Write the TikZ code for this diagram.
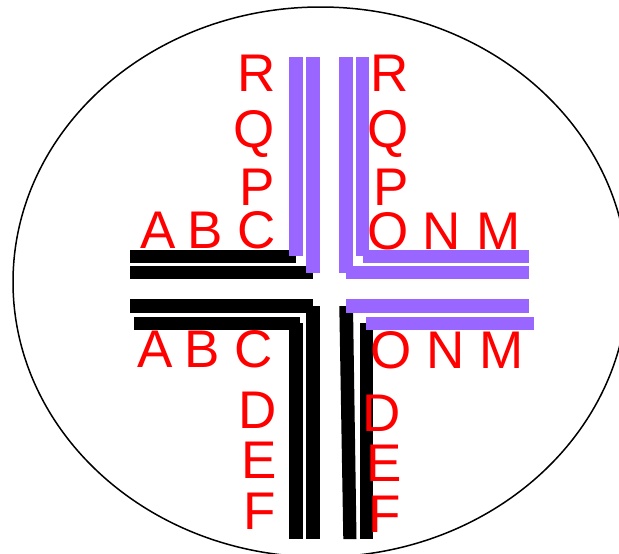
\documentclass[tikz,border=0pt]{standalone}
\usepackage{fontspec}
\setmainfont{Liberation Sans}
\definecolor{barpurple}{HTML}{9966FF}
\tikzset{
  letter/.style={text=red,font=\fontsize{53}{53}\selectfont,anchor=base,inner sep=0pt,outer sep=0pt},
  blackbar/.style={fill=black,draw=none},
  purplebar/.style={fill=barpurple,draw=none},
  ring/.style={draw=black,line width=1.5,fill=white}
}
\begin{document}
\begin{tikzpicture}[x=1pt,y=-1pt]
\useasboundingbox (0,0) rectangle (619,554);
\clip (0,0) rectangle (619,554);
\fill[white] (0,0) rectangle (619,554);
\draw[ring] (320.5,282) ellipse [x radius=307.5,y radius=275];
% black horizontal bars
\fill[blackbar] (129.5,249.5) rectangle (296,263);
\fill[blackbar] (129.5,265.7) rectangle (312.5,279.3);
\fill[blackbar] (129.5,299) rectangle (312.5,312.5);
\fill[blackbar] (133.5,316.5) rectangle (300,329.5);
% black vertical bars
\fill[blackbar] (306,306) rectangle (319.5,539);
\fill[blackbar] (289.3,323) rectangle (303,539);
\fill[blackbar] (339.3,306) -- (353,306) -- (356.5,539) -- (343.3,539) -- cycle;
\fill[blackbar] (359.8,323) rectangle (373,539);
% purple vertical bars
\fill[purplebar] (289.3,56.7) rectangle (303,256);
\fill[purplebar] (306,56.7) rectangle (319.7,272.7);
\fill[purplebar] (339.3,56.7) rectangle (352.7,272.7);
\fill[purplebar] (356,56.7) rectangle (369,256);
% purple horizontal bars
\fill[purplebar] (362.7,250) rectangle (529,263);
\fill[purplebar] (346,265.7) rectangle (529,279.3);
\fill[purplebar] (346,299) rectangle (529,312.5);
\fill[purplebar] (366,316.5) rectangle (533.5,330);
% letters
\node[letter] (tlR) at (256.5,91.5) {R};
\node[letter] (tlQ) at (254.5,147) {Q};
\node[letter] (tlP) at (257.5,205) {P};
\node[letter] (trR) at (390,91) {R};
\node[letter] (trQ) at (388,147) {Q};
\node[letter] (trP) at (391,205) {P};
\node[letter] (ulA) at (158.5,248) {A};
\node[letter] (ulB) at (205,248) {B};
\node[letter] (ulC) at (256.5,248) {C};
\node[letter] (urO) at (388.5,249.5) {O};
\node[letter] (urN) at (442,249.5) {N};
\node[letter] (urM) at (499,249.5) {M};
\node[letter] (llA) at (155.5,367) {A};
\node[letter] (llB) at (202,367) {B};
\node[letter] (llC) at (253.5,367) {C};
\node[letter] (lrO) at (391.5,368) {O};
\node[letter] (lrN) at (446,368) {N};
\node[letter] (lrM) at (502,368) {M};
\node[letter] (blD) at (257.5,428) {D};
\node[letter] (blE) at (259,478) {E};
\node[letter] (blF) at (260,529) {F};
\node[letter] (brD) at (382,431) {D};
\node[letter] (brE) at (384,481) {E};
\node[letter] (brF) at (385,532) {F};
\end{tikzpicture}
\end{document}
